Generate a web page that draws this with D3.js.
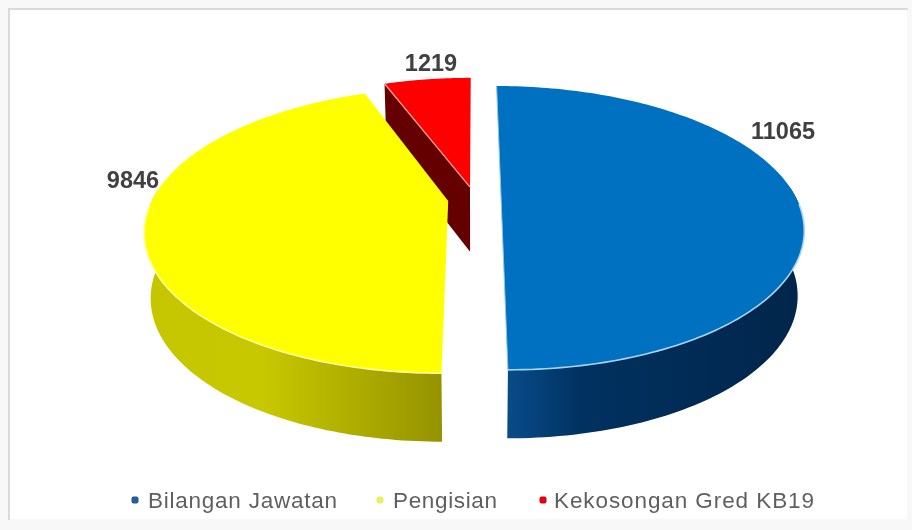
<!DOCTYPE html>
<html><head><meta charset="utf-8">
<script src="https://cdn.jsdelivr.net/npm/d3@7"></script>
<style>
html,body{margin:0;padding:0;background:#f8f8f9;overflow:hidden}
svg{display:block;filter:blur(.7px)}
text{font-family:"Liberation Sans",Arial,sans-serif}
</style></head><body>
<svg id="c" width="912" height="530"></svg>
<script>
const categories = ["Bilangan Jawatan", "Pengisian", "Kekosongan Gred KB19"];
const values = [11065, 9846, 1219];
const topColors = ["#0070c0", "#ffff00", "#ff0000"];
const wallStops = [["#0a4f8f", "#003160", "#02254a"], ["#c6c600", "#c8c800", "#959300"], ["#640000", "#640000", "#640000"]];

const W = 912, H = 530;
const svg = d3.select("#c");
const defs = svg.append("defs");

// Frame
svg.append("rect").attr("width", W).attr("height", H).attr("fill", "#f8f8f9");
svg.append("rect").attr("x", 9).attr("y", 9).attr("width", 899).attr("height", 511)
  .attr("fill", "#fff").attr("stroke", "#f6f6f6").attr("stroke-width", 1.5);
svg.append("path").attr("d", "M9,520V9H908").attr("fill", "none")
  .attr("stroke", "#dadada").attr("stroke-width", 2);

// Perspective view of a unit disc
const P = {x: 474.5, y: 199}, A = 295.6, B = 136, q = 0.204, explode = 0.09, warp = 0.022;
const depth = Y => 64.5 + 4 * Y;
const lowerWidth = 0.98;
function project(X, Y) {
  const w = 1 - q * Y;
  return [P.x + A * X / w, P.y + B * Y / w];
}
const lower = (p, Y) => [P.x + (p[0] - P.x) * lowerWidth, p[1] + depth(Y)];

const pie = d3.pie().sort(null).startAngle(0).endAngle(2 * Math.PI);
const arcs = pie(values);

function sliceGeom(a) {
  const mid = (a.startAngle + a.endAngle) / 2;
  const ox = explode * Math.sin(mid), oy = -explode * Math.cos(mid);
  const rim = d3.range(0, 161).map(k => {
    const t0 = a.startAngle + (a.endAngle - a.startAngle) * k / 160;
    const t = t0 + warp * Math.sin(2 * t0);
    const X = Math.sin(t), Y = -Math.cos(t);
    const p = project(X + ox, Y + oy);
    return {p, Y, low: lower(p, Y)};
  });
  const c = project(ox, oy);
  return {rim, c, cLow: lower(c, 0)};
}

const line = d3.line();
const order = [2, 1, 0]; // far slice first

order.forEach(i => {
  const g = sliceGeom(arcs[i]);
  const grad = defs.append("linearGradient").attr("id", "w" + i)
    .attr("gradientUnits", "userSpaceOnUse")
    .attr("x1", d3.min(g.rim, d => d.p[0])).attr("x2", d3.max(g.rim, d => d.p[0]))
    .attr("y1", 0).attr("y2", 0);
  wallStops[i].forEach((s, k) => {
    const off = i === 0 ? [0, .28, 1][k] : [0, .4, 1][k];
    grad.append("stop").attr("offset", off).attr("stop-color", s);
  });

  // outer wall: only the part of the rim turned towards the viewer
  const near = g.rim.filter(d => d.Y >= -0.1);
  if (near.length > 1) {
    const wall = near.map(d => d.p).concat(near.map(d => d.low).reverse());
    svg.append("path").attr("d", line(wall) + "Z").attr("fill", `url(#w${i})`);
  }

  // exposed cut face of the small far slice
  if (i === 2) {
    const corner = g.rim[0];
    svg.append("path")
      .attr("d", line([corner.p, g.c, g.cLow, corner.low]) + "Z")
      .attr("fill", wallStops[i][0]);
  }

  // top face
  svg.append("path")
    .attr("d", line(g.rim.map(d => d.p).concat([g.c])) + "Z")
    .attr("fill", topColors[i]);

  // light rim on the near edge
  const nearRim = g.rim.filter(d => d.Y > 0.02).map(d => d.p);
  if (nearRim.length > 1) {
    svg.append("path").attr("d", line(nearRim))
      .attr("fill", "none").attr("stroke", i === 0 ? "#a9d4f2" : "#ffffa0")
      .attr("stroke-width", 1.6);
  }
  if (i === 0) {
    svg.append("path").attr("d", line([g.rim[0].p, g.rim[160].p]))
      .attr("stroke", "#8fc4ea").attr("stroke-width", 1).attr("fill", "none");
  }
  if (i === 2) {
    svg.append("path").attr("d", line([g.c, g.rim[0].p]))
      .attr("stroke", "#ffa0a0").attr("stroke-width", 1.2).attr("fill", "none");
  }
});

// Data labels
const labelPos = [[783, 139], [133, 188], [431, 71]];
values.forEach((v, i) => {
  svg.append("text").attr("x", labelPos[i][0]).attr("y", labelPos[i][1])
    .attr("text-anchor", "middle").attr("font-size", 23.5).attr("font-weight", 700)
    .attr("fill", "#404040").text(v);
});

// Legend
const legendX = [148, 393, 554], legendEnd = [337, 497, 814];
const markerX = [135, 380, 543];
const markerColors = ["#1f5f9a", "#e8f060", "#e00010"];
const legendY = 508;
categories.forEach((c, i) => {
  svg.append("rect").attr("x", markerX[i] - 3.5).attr("y", 496.5).attr("width", 7).attr("height", 7)
    .attr("rx", 2).attr("fill", markerColors[i]);
  svg.append("text").attr("x", legendX[i]).attr("y", legendY)
    .attr("font-size", 22.5).attr("fill", "#5f5f5f")
    .attr("textLength", legendEnd[i] - legendX[i]).attr("lengthAdjust", "spacing").text(c);
});
</script>
</body></html>
